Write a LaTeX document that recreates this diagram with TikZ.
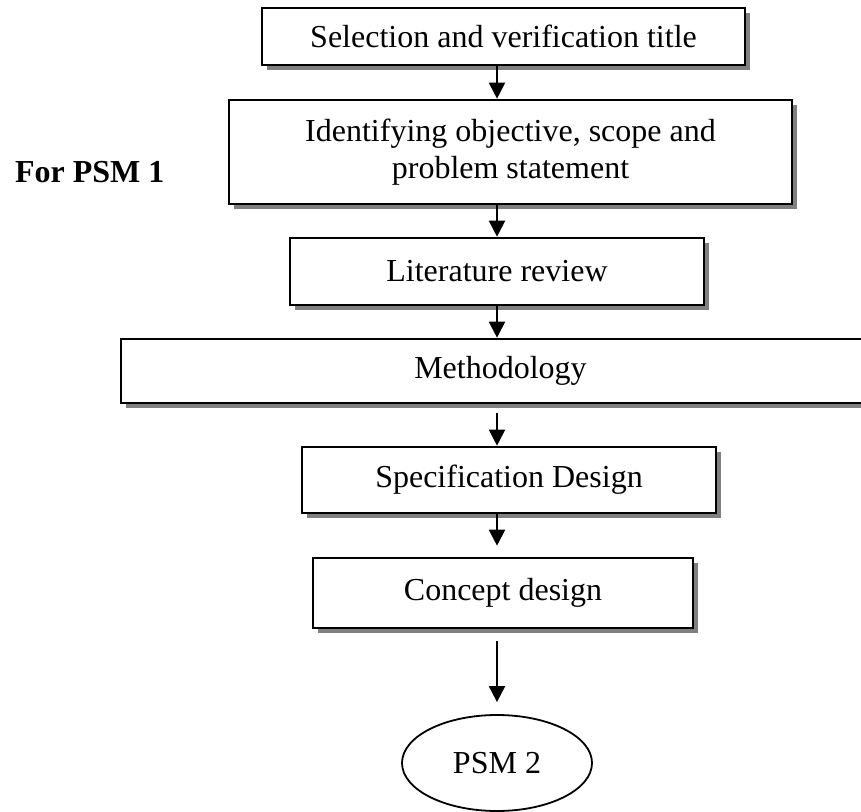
\documentclass[tikz,border=0pt]{standalone}
\usepackage{fontspec}
\setmainfont{Liberation Serif}
\usepackage{tikz}
\usepackage{xcolor}
\usetikzlibrary{arrows.meta, shapes.geometric, shadows, positioning}

\begin{document}
\begin{tikzpicture}[x=0.5pt, y=-0.5pt, font=\fontsize{16}{18.5}\selectfont,
  box/.style={rectangle, draw, line width=1.3pt, fill=white, align=center, inner sep=0pt,
    drop shadow={shadow xshift=2.5pt, shadow yshift=-2.5pt, fill=black!50, opacity=1}},
  flow/.style={-{Triangle[length=8pt, width=8pt]}, line width=1pt}]

            \useasboundingbox (0,0) rectangle (861,812);

            \node[box, minimum width=241.5pt, minimum height=28.5pt] (title) at (503.5,36.5) {Selection and verification title};
            \node[box, minimum width=281.5pt, minimum height=52pt] (objective) at (510.5,152) {Identifying objective, scope and\\problem statement};
            \node[box, minimum width=207pt, minimum height=33.5pt] (litreview) at (497,271.5) {Literature review};
            \node[box, minimum width=379.5pt, minimum height=32pt] (method) at (500.5,371) {Methodology};
            \node[box, minimum width=207pt, minimum height=33pt] (specdesign) at (509,480) {Specification Design};
            \node[box, minimum width=190pt, minimum height=35pt] (concept) at (503,593) {Concept design};
            \node[ellipse, draw, line width=0.9pt, minimum width=95pt, minimum height=48pt] (psm2) at (497,763) {PSM 2};
            \node[anchor=base west, font=\fontsize{16}{18.5}\selectfont\bfseries] (psm1) at (8,183) {For PSM 1};

            \coordinate (axis) at (497,0);

            \path[flow]
            (title.south -| axis) edge (objective.north -| axis)
            (objective.south -| axis) edge (litreview.north -| axis)
            (litreview.south -| axis) edge (method.north -| axis)
            (method.south -| axis) edge[shorten <=4.5pt] (specdesign.north -| axis)
            (specdesign.south -| axis) edge[shorten >=5.5pt] (concept.north -| axis)
            (concept.south -| axis) edge[shorten <=6pt, shorten >=6pt] (psm2.north);

        \end{tikzpicture}
\end{document}
